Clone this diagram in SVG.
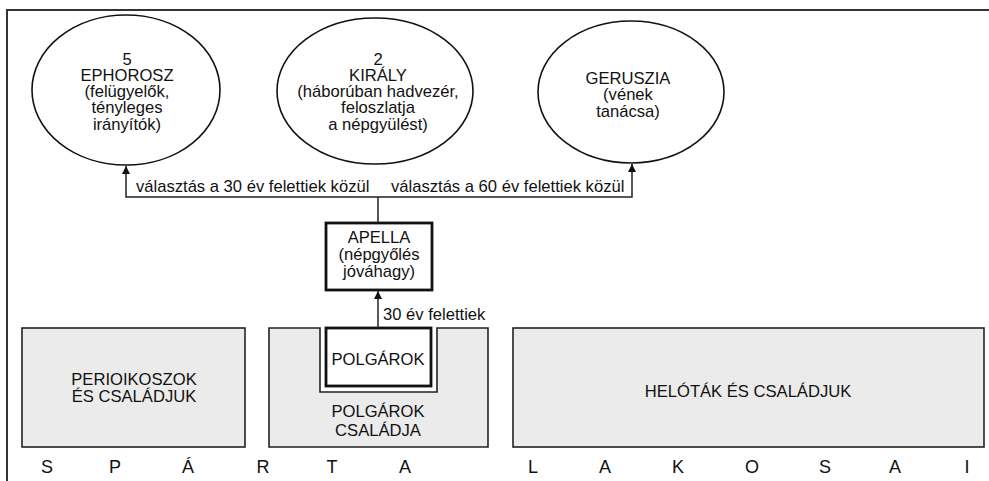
<svg xmlns="http://www.w3.org/2000/svg" width="989" height="481" viewBox="0 0 989 481">
<defs>
<style>
text{font-family:"Liberation Sans",Arial,sans-serif;font-size:16.6px;fill:#111;}
.c{text-anchor:middle;}
.big{font-size:18px;}
.ell{fill:#fff;stroke:#111;stroke-width:1.6;}
.gray{fill:#ebebeb;stroke:#222;stroke-width:1.6;}
.thick{fill:#fff;stroke:#111;stroke-width:2.8;}
.line{fill:none;stroke:#222;stroke-width:1.5;}
</style>
<marker id="ah" viewBox="0 0 8 10" refX="8" refY="5" markerWidth="8" markerHeight="10" markerUnits="userSpaceOnUse" orient="auto">
<path d="M0,1 L8,5 L0,9 Z" fill="#111"/>
</marker>
</defs>
<rect width="989" height="481" fill="#fff"/>
<g id="frame">
<path d="M7,481 V10 H989" fill="none" stroke="#333" stroke-width="2"/>
</g>
<g id="ephorosz">
<ellipse class="ell" cx="126" cy="90" rx="94" ry="75"/>
<text class="c" x="127" y="65">5</text>
<text class="c" x="127" y="81">EPHOROSZ</text>
<text class="c" x="127" y="97">(felügyelők,</text>
<text class="c" x="127" y="113">tényleges</text>
<text class="c" x="127" y="130">irányítók)</text>
</g>
<g id="kiraly">
<ellipse class="ell" cx="375" cy="91" rx="98" ry="73"/>
<text class="c" x="378" y="65">2</text>
<text class="c" x="378" y="81">KIRÁLY</text>
<text class="c" x="378" y="97">(háborúban hadvezér,</text>
<text class="c" x="378" y="113">feloszlatja</text>
<text class="c" x="378" y="130">a népgyülést)</text>
</g>
<g id="geruszia">
<ellipse class="ell" cx="631" cy="92" rx="93" ry="71"/>
<text class="c" x="628" y="84">GERUSZIA</text>
<text class="c" x="628" y="100">(vének</text>
<text class="c" x="628" y="117">tanácsa)</text>
</g>
<g id="apella">
<rect class="thick" x="326" y="223" width="106" height="67"/>
<text class="c" x="379" y="243">APELLA</text>
<text class="c" x="379" y="260">(népgyőlés</text>
<text class="c" x="379" y="277">jóváhagy)</text>
</g>
<g id="perioikoszok">
<rect class="gray" x="22" y="328" width="223" height="119"/>
<text class="c" x="134" y="385">PERIOIKOSZOK</text>
<text class="c" x="134" y="402">ÉS CSALÁDJUK</text>
</g>
<g id="polgarok-csaladja">
<path class="gray" d="M269,328 H320 V392 H437 V328 H488 V447 H269 Z"/>
<text class="c" x="378" y="417">POLGÁROK</text>
<text class="c" x="378" y="436">CSALÁDJA</text>
</g>
<g id="polgarok">
<rect class="thick" x="326" y="328" width="105" height="58"/>
<text class="c" x="378" y="365">POLGÁROK</text>
</g>
<g id="helotak">
<rect class="gray" x="513" y="328" width="471" height="119"/>
<text class="c" x="748" y="397">HELÓTÁK ÉS CSALÁDJUK</text>
</g>
<g id="connectors">
<path class="line" d="M378,223 V197"/>
<path class="line" d="M378,197 H126 V166" marker-end="url(#ah)"/>
<path class="line" d="M378,197 H632 V164" marker-end="url(#ah)"/>
<path class="line" d="M378,328 V291" marker-end="url(#ah)"/>
<text x="136" y="192">választás a 30 év felettiek közül</text>
<text x="391" y="192">választás a 60 év felettiek közül</text>
<text x="383" y="320">30 év felettiek</text>
</g>
<g id="footer">
<text class="c big" x="47" y="473">S</text>
<text class="c big" x="115" y="473">P</text>
<text class="c big" x="188" y="473">Á</text>
<text class="c big" x="263" y="473">R</text>
<text class="c big" x="332" y="473">T</text>
<text class="c big" x="405" y="473">A</text>
<text class="c big" x="533" y="473">L</text>
<text class="c big" x="605" y="473">A</text>
<text class="c big" x="678" y="473">K</text>
<text class="c big" x="752" y="473">O</text>
<text class="c big" x="825" y="473">S</text>
<text class="c big" x="895" y="473">A</text>
<text class="c big" x="967" y="473">I</text>
</g>
</svg>
